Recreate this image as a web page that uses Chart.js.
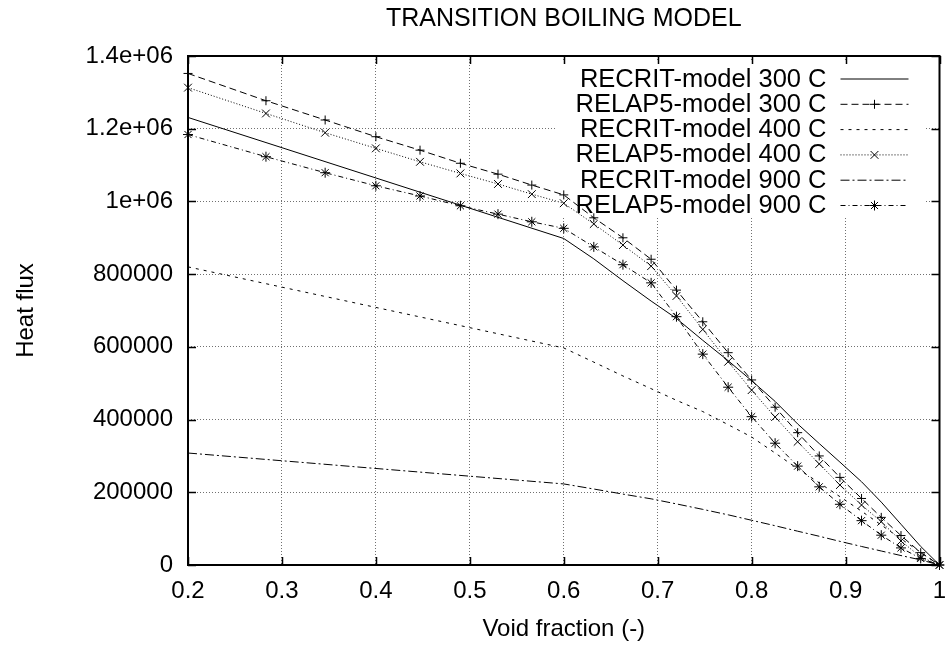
<!DOCTYPE html>
<html><head><meta charset="utf-8">
<script src="https://cdn.jsdelivr.net/npm/chart.js@4/dist/chart.umd.min.js"></script>
<style>html,body{margin:0;padding:0;background:#fff;overflow:hidden}canvas{display:block}</style>
</head><body>
<canvas id="c" width="946" height="646"></canvas>
<script>
// ---- data ----
const titleText = 'TRANSITION BOILING MODEL';
const xAxisTitle = 'Void fraction (-)';
const yAxisTitle = 'Heat flux';
const xTickLabels = ['0.2','0.3','0.4','0.5','0.6','0.7','0.8','0.9','1'];
const yTickLabels = ['0','200000','400000','600000','800000','1e+06','1.2e+06','1.4e+06'];
const seriesNames = ['RECRIT-model 300 C','RELAP5-model 300 C','RECRIT-model 400 C','RELAP5-model 400 C','RECRIT-model 900 C','RELAP5-model 900 C'];

// void fractions of the RELAP5 points
const relapVoid = [0.2,0.283,0.346,0.4,0.447,0.49,0.53,0.566,0.6,0.632,0.663,0.693,0.72,0.748,0.775,0.8,0.825,0.849,0.872,0.894,0.917,0.938,0.959,0.98,1.0];
// void fractions of the RECRIT curves
const recritVoid = [0.2,0.6,0.632,0.663,0.693,0.72,0.748,0.775,0.8,0.825,0.849,0.872,0.894,0.917,0.938,0.959,0.98,1.0];

const recrit300 = [1231000,898000,842000,782000,726000,678000,618000,562000,507000,450000,388000,334000,283000,229000,173000,112000,51000,0];
const relap300  = [1352000,1277000,1224000,1178000,1141000,1105000,1075000,1045000,1018000,955000,900000,841000,756000,669000,584000,509000,434000,364000,300000,241000,183000,131000,81000,34000,0];
const recrit400 = [820000,597000,558000,520000,485000,453000,422000,386000,352000,308000,265000,226000,188000,148000,110000,72000,35000,0];
const relap400  = [1313000,1242000,1189000,1146000,1109000,1077000,1048000,1020000,995000,938000,880000,822000,740000,648000,559000,481000,407000,339000,278000,220000,165000,119000,66000,22000,0];
const recrit900 = [308000,223000,209000,195000,182000,168000,153000,138000,123000,108000,93000,79000,65000,51000,38500,26000,14000,0];
const relap900  = [1184000,1123000,1079000,1043000,1015000,988000,965000,944000,926000,875000,826000,776000,683000,580000,489000,408000,335000,272000,215000,167000,122000,82000,47000,18000,0];

const pairs = (xs, ys) => xs.map((x, i) => ({x: x, y: ys[i]}));
const FONT = '"Liberation Sans", Arial, Helvetica, sans-serif';
Chart.defaults.color = '#000';
Chart.defaults.font.family = FONT;
Chart.defaults.font.size = 24;

function mkSet(label, xs, ys, dash, style, radius) {
  return {
    label: label, data: pairs(xs, ys),
    borderColor: '#000', backgroundColor: 'rgba(0,0,0,0)',
    borderWidth: 1, borderDash: dash, tension: 0,
    pointStyle: style || 'circle', pointRadius: style ? radius : 0,
    pointHoverRadius: style ? radius : 0,
    pointBorderColor: '#000', pointBackgroundColor: 'rgba(0,0,0,0)', pointBorderWidth: 1,
    clip: false
  };
}

function drawMarker(ctx, style, r, x, y) {
  ctx.beginPath();
  if (style === 'cross' || style === 'star') {
    ctx.moveTo(x - r, y); ctx.lineTo(x + r, y);
    ctx.moveTo(x, y - r); ctx.lineTo(x, y + r);
  }
  if (style === 'crossRot' || style === 'star') {
    const d = r * Math.SQRT1_2;
    ctx.moveTo(x - d, y - d); ctx.lineTo(x + d, y + d);
    ctx.moveTo(x - d, y + d); ctx.lineTo(x + d, y - d);
  }
  ctx.stroke();
}

const keyPlugin = {
  id: 'gnuplotKey',
  beforeDatasetsDraw(chart) {
    const ctx = chart.ctx, a = chart.chartArea;
    ctx.save();
    ctx.fillStyle = '#fff';
    ctx.fillRect(a.left + 369, a.top + 6, 369, 155);
    ctx.font = '25.5px ' + FONT;
    ctx.textAlign = 'right';
    ctx.textBaseline = 'middle';
    chart.data.datasets.forEach((ds, i) => {
      const y = a.top + 22.5 + i * 25.3;
      ctx.fillStyle = '#000';
      ctx.fillText(ds.label, a.right - 113, y + 1);
      const x1 = a.right - 99, x2 = a.right - 31;
      ctx.strokeStyle = '#000';
      ctx.lineWidth = 1;
      ctx.setLineDash(ds.borderDash || []);
      ctx.beginPath(); ctx.moveTo(x1, y + 0.5); ctx.lineTo(x2, y + 0.5); ctx.stroke();
      ctx.setLineDash([]);
      if (ds.pointRadius > 0) drawMarker(ctx, ds.pointStyle, ds.pointRadius, (x1 + x2) / 2, y + 0.5);
    });
    ctx.restore();
  },
  afterDraw(chart) {
    const ctx = chart.ctx, a = chart.chartArea;
    const xs = chart.scales.x, ys = chart.scales.y;
    ctx.save();
    ctx.strokeStyle = '#000';
    ctx.lineWidth = 1.5;
    ctx.beginPath();
    xs.ticks.forEach(t => {
      const p = Math.round(xs.getPixelForValue(t.value)) + 0.5;
      ctx.moveTo(p, a.bottom); ctx.lineTo(p, a.bottom - 8);
      ctx.moveTo(p, a.top); ctx.lineTo(p, a.top + 8);
    });
    ys.ticks.forEach(t => {
      const p = Math.round(ys.getPixelForValue(t.value)) + 0.5;
      ctx.moveTo(a.left, p); ctx.lineTo(a.left + 8, p);
      ctx.moveTo(a.right, p); ctx.lineTo(a.right - 8, p);
    });
    ctx.stroke();
    ctx.lineWidth = 2;
    ctx.strokeRect(a.left, a.top, a.right - a.left, a.bottom - a.top);
    ctx.restore();
  }
};

new Chart(document.getElementById('c'), {
  type: 'line',
  data: {
    datasets: [
      mkSet(seriesNames[0], recritVoid, recrit300, [], null, 0),
      mkSet(seriesNames[1], relapVoid, relap300, [7, 4], 'cross', 4.5),
      mkSet(seriesNames[2], recritVoid, recrit400, [3, 5], null, 0),
      mkSet(seriesNames[3], relapVoid, relap400, [1, 2], 'crossRot', 5.5),
      mkSet(seriesNames[4], recritVoid, recrit900, [9, 3, 2, 3], null, 0),
      mkSet(seriesNames[5], relapVoid, relap900, [5, 3, 1, 3], 'star', 5)
    ]
  },
  options: {
    responsive: false,
    animation: false,
    devicePixelRatio: 1,
    layout: { padding: { left: 0, right: 3, top: 0, bottom: 0 } },
    plugins: {
      legend: { display: false },
      tooltip: { enabled: false },
      title: {
        display: true, text: titleText, fullSize: false,
        color: '#000', font: { size: 25, weight: 'normal', family: FONT },
        padding: { top: 4.5, bottom: 21.5 }
      }
    },
    scales: {
      x: {
        type: 'linear', min: 0.2, max: 1,
        ticks: {
          stepSize: 0.1, autoSkip: false, maxRotation: 0, padding: 12,
          font: { size: 24 }, color: '#000',
          callback: (v, i) => xTickLabels[i]
        },
        grid: { color: '#707070', lineWidth: 1, drawTicks: false },
        border: { display: false, dash: [1, 2] },
        title: { display: true, text: xAxisTitle, font: { size: 24 }, color: '#000', padding: { top: 0, bottom: 2 } },
        afterFit: (s) => { s.height = 81; s.paddingLeft = 0; s.paddingRight = 0; }
      },
      y: {
        type: 'linear', min: 0, max: 1400000,
        ticks: {
          stepSize: 200000, autoSkip: false, padding: 15,
          font: { size: 24 }, color: '#000',
          callback: (v, i) => yTickLabels[i]
        },
        grid: { color: '#707070', lineWidth: 1, drawTicks: false },
        border: { display: false, dash: [1, 2] },
        title: { display: true, text: yAxisTitle, font: { size: 24 }, color: '#000', padding: { top: 11.6, bottom: 0 } },
        afterFit: (s) => { s.width = 188; s.paddingTop = 0; s.paddingBottom = 0; }
      }
    }
  },
  plugins: [keyPlugin]
});
</script>
</body></html>
